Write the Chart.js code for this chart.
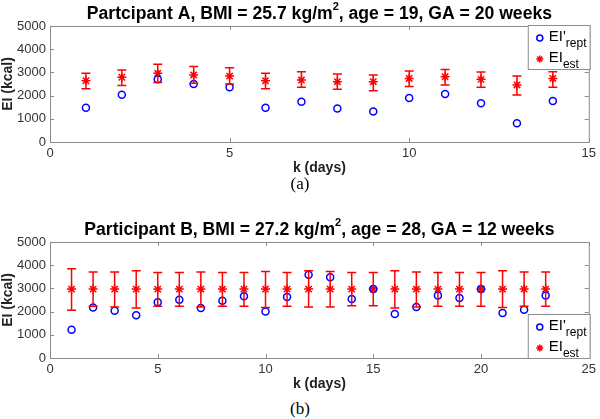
<!DOCTYPE html>
<html>
<head>
<meta charset="utf-8">
<script src="https://cdn.jsdelivr.net/npm/chart.js@4"></script>
<style>
  body { margin: 0; background: #fff; width: 600px; height: 419px; position: relative; overflow: hidden; }
  canvas { position: absolute; left: 0; }
  .cap { position: absolute; left: 0; width: 600px; text-align: center; font: 17px "Liberation Serif", "Times New Roman", serif; color: #000; }
</style>
</head>
<body>
<canvas id="chartA" width="600" height="177" style="top:0"></canvas>
<div class="cap" style="top:174px">(a)</div>
<canvas id="chartB" width="600" height="177" style="top:216px"></canvas>
<div class="cap" style="top:399px">(b)</div>
<script>
// participant A
const titleA = ['Partcipant A, BMI = 25.7 kg/m', '2', ', age = 19, GA = 20 weeks'];
const daysA = [1, 2, 3, 4, 5, 6, 7, 8, 9, 10, 11, 12, 13, 14];
const reptA = [1480, 2040, 2700, 2500, 2360, 1480, 1740, 1440, 1310, 1900, 2070, 1670, 810, 1770];
const estA = [2640, 2790, 2960, 2890, 2840, 2640, 2670, 2600, 2600, 2740, 2810, 2700, 2460, 2740];
const estLoA = [2300, 2430, 2560, 2530, 2500, 2300, 2360, 2270, 2210, 2390, 2460, 2360, 2030, 2360];
const estHiA = [2960, 3100, 3350, 3250, 3200, 2960, 3030, 2930, 2890, 3060, 3130, 3020, 2850, 3030];
const xTicksA = [0, 5, 10, 15];

// participant B
const titleB = ['Participant B, BMI = 27.2 kg/m', '2', ', age = 28, GA = 12 weeks'];
const daysB = [1, 2, 3, 4, 5, 6, 7, 8, 9, 10, 11, 12, 13, 14, 15, 16, 17, 18, 19, 20, 21, 22, 23];
const reptB = [1220, 2180, 2040, 1840, 2400, 2510, 2160, 2470, 2660, 2000, 2630, 3590, 3480, 2540, 2970, 1900, 2200, 2690, 2590, 2970, 1940, 2080, 2690];
const estB = [2970, 2970, 2970, 2970, 2970, 2970, 2970, 2970, 2970, 2970, 2970, 2970, 2970, 2970, 2970, 2970, 2970, 2970, 2970, 2970, 2970, 2970, 2970];
const estLoB = [2060, 2230, 2200, 2160, 2230, 2230, 2200, 2230, 2230, 2180, 2230, 2200, 2200, 2250, 2250, 2160, 2200, 2230, 2230, 2230, 2180, 2230, 2230];
const estHiB = [3850, 3710, 3710, 3760, 3690, 3690, 3710, 3690, 3690, 3730, 3690, 3760, 3730, 3690, 3690, 3760, 3710, 3690, 3690, 3690, 3760, 3710, 3710];
const xTicksB = [0, 5, 10, 15, 20, 25];

const yTicks = [0, 1000, 2000, 3000, 4000, 5000];
const legendLabels = [['EI\'', 'rept'], ['EI', 'est']];

const FONT = '"Liberation Sans", Arial, Helvetica, sans-serif';
const AXIS_GREY = '#8c8c8c';

// MATLAB-ish box with inward ticks
const boxPlugin = {
  id: 'box',
  afterDraw(chart) {
    const {ctx, chartArea: a, scales} = chart;
    ctx.save();
    ctx.strokeStyle = AXIS_GREY;
    ctx.lineWidth = 1;
    ctx.strokeRect(a.left + 0.5, a.top + 0.5, a.right - a.left, a.bottom - a.top);
    ctx.beginPath();
    for (const t of scales.x.ticks) {
      const px = Math.round(scales.x.getPixelForValue(t.value)) + 0.5;
      ctx.moveTo(px, a.bottom); ctx.lineTo(px, a.bottom - 4);
      ctx.moveTo(px, a.top); ctx.lineTo(px, a.top + 4);
    }
    for (const t of scales.y.ticks) {
      const py = Math.round(scales.y.getPixelForValue(t.value)) + 0.5;
      ctx.moveTo(a.left, py); ctx.lineTo(a.left + 4, py);
      ctx.moveTo(a.right, py); ctx.lineTo(a.right - 4, py);
    }
    ctx.stroke();
    ctx.restore();
  }
};

// vertical error bars with caps for the estimate series
const errorBarPlugin = {
  id: 'errorBars',
  afterDatasetsDraw(chart, args, opts) {
    const {ctx, scales} = chart;
    const ds = chart.data.datasets[1];
    ctx.save();
    ctx.strokeStyle = '#ff0000';
    ctx.lineWidth = 1.5;
    ctx.beginPath();
    ds.data.forEach((p) => {
      const x = scales.x.getPixelForValue(p.x);
      const lo = scales.y.getPixelForValue(p.lo);
      const hi = scales.y.getPixelForValue(p.hi);
      ctx.moveTo(x, lo); ctx.lineTo(x, hi);
      ctx.moveTo(x - 4.5, lo); ctx.lineTo(x + 4.5, lo);
      ctx.moveTo(x - 4.5, hi); ctx.lineTo(x + 4.5, hi);
    });
    ctx.stroke();
    ctx.restore();
  }
};

// title centred on the axes, with a real superscript
const titlePlugin = {
  id: 'axTitle',
  afterDraw(chart, args, opts) {
    const {ctx, chartArea: a} = chart;
    const [pre, sup, post] = opts.parts;
    const big = 'bold 17.6px ' + FONT, small = 'bold 11px ' + FONT;
    ctx.save();
    ctx.fillStyle = '#000';
    ctx.textBaseline = 'middle';
    ctx.font = big;
    const w1 = ctx.measureText(pre).width;
    const w3 = ctx.measureText(post).width;
    ctx.font = small;
    const w2 = ctx.measureText(sup).width;
    let x = (a.left + a.right) / 2 - (w1 + w2 + w3) / 2;
    const y = 14;
    ctx.textAlign = 'left';
    ctx.font = big;
    ctx.fillText(pre, x, y);
    x += w1;
    ctx.font = small;
    ctx.fillText(sup, x, y - 7);
    x += w2;
    ctx.font = big;
    ctx.fillText(post, x, y);
    ctx.restore();
  }
};

// boxed legend inside the axes corner, with subscripts
const legendPlugin = {
  id: 'boxLegend',
  afterDraw(chart, args, opts) {
    const {ctx, chartArea: a} = chart;
    const w = 62, h = 44;
    const left = a.right + 1 - w;
    const top = opts.corner === 'top' ? a.top - 1 : a.bottom - h;
    ctx.save();
    ctx.fillStyle = '#fff';
    ctx.fillRect(left, top, w, h);
    ctx.strokeStyle = AXIS_GREY;
    ctx.lineWidth = 1;
    ctx.strokeRect(left + 0.5, top + 0.5, w, h);
    const rows = [top + 12, top + 33];
    // markers
    ctx.lineWidth = 1.5;
    ctx.strokeStyle = '#0000ff';
    ctx.beginPath();
    ctx.arc(left + 12, rows[0] + 1, 3, 0, Math.PI * 2);
    ctx.stroke();
    ctx.strokeStyle = '#ff0000';
    ctx.beginPath();
    const cx = left + 12, cy = rows[1] + 1, r = 3.5;
    for (let k = 0; k < 4; k++) {
      const ang = k * Math.PI / 4;
      ctx.moveTo(cx - r * Math.cos(ang), cy - r * Math.sin(ang));
      ctx.lineTo(cx + r * Math.cos(ang), cy + r * Math.sin(ang));
    }
    ctx.stroke();
    // texts
    ctx.fillStyle = '#000';
    ctx.textBaseline = 'middle';
    legendLabels.forEach(([main, sub], i) => {
      ctx.font = '15px ' + FONT;
      ctx.fillText(main, left + 21, rows[i]);
      const mw = ctx.measureText(main).width;
      ctx.font = '12px ' + FONT;
      ctx.fillText(sub, left + 21 + mw, rows[i] + 7);
    });
    ctx.restore();
  }
};

function makeChart(id, title, days, rept, est, lo, hi, xTicks, corner) {
  return new Chart(document.getElementById(id), {
    type: 'scatter',
    data: {
      datasets: [
        {
          label: 'rept',
          data: days.map((d, i) => ({x: d, y: rept[i]})),
          pointStyle: 'circle',
          pointRadius: 3.5,
          pointBorderWidth: 1.5,
          borderColor: '#0000ff',
          backgroundColor: 'rgba(0,0,0,0)',
        },
        {
          label: 'est',
          data: days.map((d, i) => ({x: d, y: est[i], lo: lo[i], hi: hi[i]})),
          pointStyle: 'star',
          pointRadius: 4.5,
          pointBorderWidth: 1.5,
          borderColor: '#ff0000',
          backgroundColor: '#ff0000',
        }
      ]
    },
    options: {
      responsive: false,
      animation: false,
      events: [],
      layout: {padding: {top: 26, right: 8, left: 0, bottom: 0}},
      plugins: {
        legend: {display: false},
        tooltip: {enabled: false},
        title: {display: false},
        axTitle: {parts: title},
        boxLegend: {corner: corner},
      },
      scales: {
        x: {
          type: 'linear',
          min: xTicks[0],
          max: xTicks[xTicks.length - 1],
          afterBuildTicks: (s) => { s.ticks = xTicks.map(v => ({value: v})); },
          afterFit: (s) => { s.height = 35; },
          grid: {display: false, drawTicks: false},
          border: {display: false},
          ticks: {color: '#333', font: {family: FONT, size: 13}, padding: 4, maxRotation: 0, callback: (v) => String(v)},
          title: {display: true, text: 'k (days)', color: '#222', font: {family: FONT, size: 14, weight: 'bold'}, padding: 0},
        },
        y: {
          type: 'linear',
          min: 0,
          max: 5000,
          afterBuildTicks: (s) => { s.ticks = yTicks.map(v => ({value: v})); },
          afterFit: (s) => { s.width = 50; },
          grid: {display: false, drawTicks: false},
          border: {display: false},
          ticks: {color: '#333', font: {family: FONT, size: 13}, padding: 4, callback: (v) => String(v)},
          title: {display: true, text: 'EI (kcal)', color: '#222', font: {family: FONT, size: 14, weight: 'bold'}, padding: 0},
        }
      }
    },
    plugins: [errorBarPlugin, boxPlugin, titlePlugin, legendPlugin]
  });
}

makeChart('chartA', titleA, daysA, reptA, estA, estLoA, estHiA, xTicksA, 'top');
makeChart('chartB', titleB, daysB, reptB, estB, estLoB, estHiB, xTicksB, 'bottom');
</script>
</body>
</html>
